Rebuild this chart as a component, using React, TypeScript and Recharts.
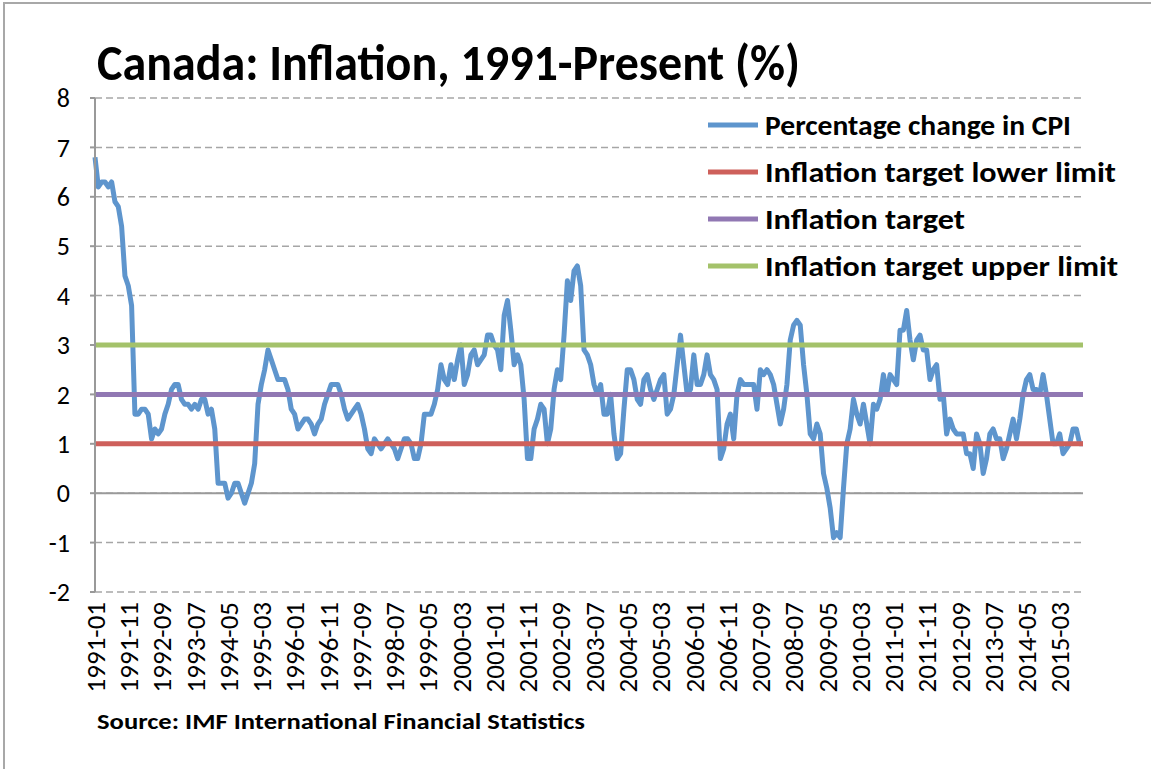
import React from 'react';
import {
  LineChart,
  Line,
  XAxis,
  YAxis,
  CartesianGrid,
  ReferenceLine,
  Legend,
} from 'recharts';

// monthly y/y change in CPI, starting 1991-01
const START_YEAR = 1991;
const cpiChange = [
  // 1991
  6.8, 6.2, 6.3, 6.3, 6.2, 6.3, 5.9, 5.8, 5.4, 4.4, 4.2, 3.8,
  // 1992
  1.6, 1.6, 1.7, 1.7, 1.6, 1.1, 1.3, 1.2, 1.3, 1.6, 1.8, 2.1,
  // 1993
  2.2, 2.2, 1.9, 1.8, 1.8, 1.7, 1.8, 1.7, 1.9, 1.9, 1.6, 1.7,
  // 1994
  1.3, 0.2, 0.2, 0.2, -0.1, 0.0, 0.2, 0.2, 0.0, -0.2, 0.0, 0.2,
  // 1995
  0.6, 1.8, 2.2, 2.5, 2.9, 2.7, 2.5, 2.3, 2.3, 2.3, 2.1, 1.7,
  // 1996
  1.6, 1.3, 1.4, 1.5, 1.5, 1.4, 1.2, 1.4, 1.5, 1.8, 2.0, 2.2,
  // 1997
  2.2, 2.2, 2.0, 1.7, 1.5, 1.6, 1.7, 1.8, 1.6, 1.3, 0.9, 0.8,
  // 1998
  1.1, 1.0, 0.9, 1.0, 1.1, 1.0, 0.9, 0.7, 0.9, 1.1, 1.1, 1.0,
  // 1999
  0.7, 0.7, 1.0, 1.6, 1.6, 1.6, 1.8, 2.1, 2.6, 2.3, 2.2, 2.6,
  // 2000
  2.3, 2.7, 3.0, 2.2, 2.4, 2.8, 2.9, 2.6, 2.7, 2.8, 3.2, 3.2,
  // 2001
  3.0, 2.9, 2.5, 3.6, 3.9, 3.3, 2.6, 2.8, 2.6, 1.9, 0.7, 0.7,
  // 2002
  1.3, 1.5, 1.8, 1.7, 1.0, 1.3, 2.1, 2.5, 2.3, 3.2, 4.3, 3.9,
  // 2003
  4.5, 4.6, 4.2, 2.9, 2.8, 2.6, 2.2, 2.0, 2.2, 1.6, 1.6, 2.0,
  // 2004
  1.2, 0.7, 0.8, 1.7, 2.5, 2.5, 2.3, 1.9, 1.8, 2.3, 2.4, 2.1,
  // 2005
  1.9, 2.1, 2.3, 2.4, 1.6, 1.7, 2.0, 2.6, 3.2, 2.6, 2.0, 2.1,
  // 2006
  2.8, 2.2, 2.2, 2.4, 2.8, 2.4, 2.3, 2.1, 0.7, 0.9, 1.4, 1.6,
  // 2007
  1.1, 2.0, 2.3, 2.2, 2.2, 2.2, 2.2, 1.7, 2.5, 2.4, 2.5, 2.4,
  // 2008
  2.2, 1.8, 1.4, 1.7, 2.2, 3.1, 3.4, 3.5, 3.4, 2.6, 2.0, 1.2,
  // 2009
  1.1, 1.4, 1.2, 0.4, 0.1, -0.3, -0.9, -0.8, -0.9, 0.1, 1.0, 1.3,
  // 2010
  1.9, 1.6, 1.4, 1.8, 1.4, 1.0, 1.8, 1.7, 1.9, 2.4, 2.0, 2.4,
  // 2011
  2.3, 2.2, 3.3, 3.3, 3.7, 3.1, 2.7, 3.1, 3.2, 2.9, 2.9, 2.3,
  // 2012
  2.5, 2.6, 1.9, 2.0, 1.2, 1.5, 1.3, 1.2, 1.2, 1.2, 0.8, 0.8,
  // 2013
  0.5, 1.2, 1.0, 0.4, 0.7, 1.2, 1.3, 1.1, 1.1, 0.7, 0.9, 1.2,
  // 2014
  1.5, 1.1, 1.5, 2.0, 2.3, 2.4, 2.1, 2.1, 2.0, 2.4, 2.0, 1.5,
  // 2015
  1.0, 1.0, 1.2, 0.8, 0.9, 1.0, 1.3, 1.3, 1.0, 1.0,
];

const LOWER_LIMIT = 1;
const TARGET = 2;
const UPPER_LIMIT = 3;

const yTicks = [-2, -1, 0, 1, 2, 3, 4, 5, 6, 7, 8];

const months = cpiChange.map((_, i) => {
  const year = START_YEAR + Math.floor(i / 12);
  const month = (i % 12) + 1;
  return `${year}-${month < 10 ? '0' : ''}${month}`;
});

const data = cpiChange.map((v, i) => ({
  month: months[i],
  cpi: v,
  lower: LOWER_LIMIT,
  target: TARGET,
  upper: UPPER_LIMIT,
}));

const FONT = 'Carlito, Lato, "Open Sans", sans-serif';

// legend order as in the original, and text widths for the narrow Calibri look
const legendOrder = ['cpi', 'lower', 'target', 'upper'];
const legendTextWidth: Record<string, number> = {
  cpi: 306,
  lower: 351,
  target: 200,
  upper: 353,
};

const MonthTick = ({ x, y, payload }: any) => (
  <text
    x={x}
    y={y}
    dy="0.36em"
    textAnchor="end"
    transform={`rotate(-90, ${x}, ${y})`}
    fontSize={27}
    fontFamily={FONT}
    fill="#000"
  >
    {payload.value}
  </text>
);

const renderLegend = ({ payload }: any) => {
  const items = [...(payload || [])].sort(
    (a: any, b: any) => legendOrder.indexOf(a.dataKey) - legendOrder.indexOf(b.dataKey)
  );
  return (
    <svg width={450} height={200}>
      {items.map((entry: any, i: number) => {
        const cy = 25 + i * 47;
        return (
          <g key={entry.dataKey}>
            <line x1={8} x2={58} y1={cy} y2={cy} stroke={entry.color} strokeWidth={5} />
            <text
              x={65}
              y={cy}
              dy="0.36em"
              fontSize={28}
              fontWeight="bold"
              fontFamily={FONT}
              fill="#000"
              textLength={legendTextWidth[entry.dataKey]}
              lengthAdjust="spacingAndGlyphs"
            >
              {entry.value}
            </text>
          </g>
        );
      })}
    </svg>
  );
};

const App = () => {
  return (
    <div
      style={{
        position: 'absolute',
        left: 0,
        top: 0,
        width: 1151,
        height: 769,
        background: '#fff',
        overflow: 'hidden',
        fontFamily: FONT,
      }}
    >
      {/* chart area frame, cut off at right and bottom */}
      <div
        style={{
          position: 'absolute',
          left: 3,
          top: 2,
          width: 1200,
          height: 800,
          borderTop: '2px solid #a8a8a8',
          borderLeft: '2px solid #a8a8a8',
        }}
      />
      <svg width={1151} height={769} style={{ position: 'absolute', left: 0, top: 0 }}>
        <text
          x={97}
          y={80}
          fontSize={50}
          fontWeight="bold"
          fontFamily={FONT}
          fill="#000"
          textLength={703}
          lengthAdjust="spacingAndGlyphs"
        >
          Canada: Inflation, 1991-Present (%)
        </text>
        <text
          x={97}
          y={729}
          fontSize={23}
          fontWeight="bold"
          fontFamily={FONT}
          fill="#000"
          textLength={488}
          lengthAdjust="spacingAndGlyphs"
        >
          Source: IMF International Financial Statistics
        </text>
      </svg>
      <div style={{ position: 'absolute', left: 0, top: 0 }}>
        <LineChart
          width={1151}
          height={769}
          data={data}
          margin={{ top: 98, right: 68, bottom: 0, left: 0 }}
        >
          <CartesianGrid
            vertical={false}
            stroke="#a6a6a6"
            strokeWidth={1.5}
            strokeDasharray="7 4"
          />
          <XAxis
            dataKey="month"
            interval={9}
            height={177}
            axisLine={false}
            tickLine={false}
            tickSize={0}
            tickMargin={10}
            tick={<MonthTick />}
          />
          <YAxis
            width={95}
            domain={[-2, 8]}
            ticks={yTicks}
            allowDataOverflow
            axisLine={{ stroke: '#999', strokeWidth: 2 }}
            tickLine={{ stroke: '#999', strokeWidth: 2 }}
            tickSize={5}
            tickMargin={20}
            tick={{ fontSize: 26, fill: '#000', fontFamily: FONT }}
          />
          <ReferenceLine y={0} stroke="#9a9a9a" strokeWidth={2} />
          <Line
            dataKey="cpi"
            name="Percentage change in CPI"
            stroke="#5E95CD"
            strokeWidth={5}
            strokeLinejoin="round"
            dot={false}
            activeDot={false}
            isAnimationActive={false}
          />
          <Line
            dataKey="lower"
            name="Inflation target lower limit"
            stroke="#CE605B"
            strokeWidth={5}
            dot={false}
            activeDot={false}
            isAnimationActive={false}
          />
          <Line
            dataKey="target"
            name="Inflation target"
            stroke="#9178B3"
            strokeWidth={5}
            dot={false}
            activeDot={false}
            isAnimationActive={false}
          />
          <Line
            dataKey="upper"
            name="Inflation target upper limit"
            stroke="#A4C26A"
            strokeWidth={5}
            dot={false}
            activeDot={false}
            isAnimationActive={false}
          />
          <Legend
            layout="horizontal"
            verticalAlign="middle"
            align="center"
            content={renderLegend}
            wrapperStyle={{ left: 700, top: 100, width: 450, height: 200 }}
          />
        </LineChart>
      </div>
    </div>
  );
};

export default App;
